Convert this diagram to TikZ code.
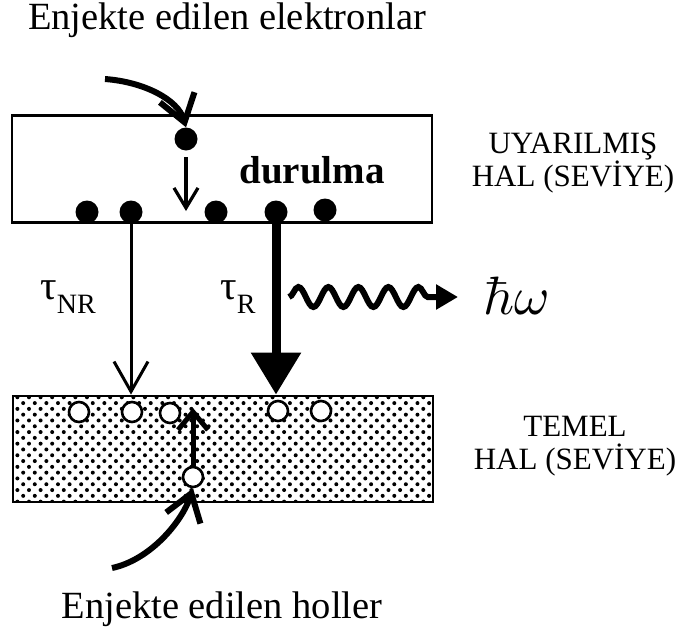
\documentclass[tikz,border=0pt]{standalone}
\usepackage[no-math]{fontspec}
\setmainfont{Liberation Serif}
\usetikzlibrary{arrows.meta,decorations.pathmorphing,patterns.meta}
\newcommand\zaman[1]{{\fontsize{41}{41}\selectfont τ}\raisebox{-14pt}{\fontsize{28}{28}\selectfont #1}}

\begin{document}
\begin{tikzpicture}[x=1pt,y=-1pt,
  yazi/.style={font=\fontsize{38.5}{40}\selectfont},
  etiket/.style={align=center,font=\fontsize{31}{33}\selectfont},
  seviye/.style={draw,line width=2.8pt,minimum width=420pt,inner sep=0pt},
  elektron/.style={circle,fill=black,minimum size=23pt,inner sep=0pt},
  hol/.style={circle,draw,line width=2.6pt,fill=white,minimum size=20pt,inner sep=0pt},
  giris/.style={line width=6pt,-{Straight Barb[length=26pt,width=36pt]}},
  ince/.style={line width=3pt,-{Straight Barb[length=30pt,width=34pt]}},
  kalin/.style={line width=9pt,-{Triangle[length=42pt,width=48pt]}},
  dalga/.style={line width=6pt,-{Triangle[length=22pt,width=24pt]},decorate,
    decoration={snake,amplitude=10pt,segment length=30pt,post length=24pt}}]
  \useasboundingbox (0,0) rectangle (687,635);
  \node[yazi] (elek) at (227,20) {Enjekte edilen elektronlar};
  \node[yazi] (hol) at (222,609) {Enjekte edilen holler};
  \node[seviye,minimum height=107pt] (ust) at (222,169) {};
  \node[seviye,minimum height=106pt,
    pattern={Dots[distance=8.2pt,radius=2pt,angle=45]}] (alt) at (223,449) {};
  \node[etiket] (uyarilmis) at (573,163) {UYARILMIŞ\\HAL (SEVİYE)};
  \node[etiket] (temel) at (575,446) {TEMEL\\HAL (SEVİYE)};
  \node[font=\bfseries\fontsize{39}{39}\selectfont] (durulma) at (312,170) {durulma};
  \node[elektron] (e0) at (186,139) {};
  \node[elektron] (e1) at (87,212) {};
  \node[elektron] (e2) at (131,212) {};
  \node[elektron] (e3) at (216,212) {};
  \node[elektron] (e4) at (276,212) {};
  \node[elektron] (e5) at (325,210) {};
  \node[hol] (h1) at (79,412) {};
  \node[hol] (h2) at (132,412) {};
  \node[hol] (h3) at (170,413) {};
  \node[hol] (h4) at (278,411) {};
  \node[hol] (h5) at (321,411) {};
  \node[hol] (h0) at (193,477) {};
  \node (tnr) at (68,297) {\zaman{NR}};
  \node (tr) at (238,297) {\zaman{R}};
  \node[inner sep=0pt] (hw) at (517,296) {\scalebox{5.4}{$\hbar\omega$}};
  \coordinate (ebas) at (105,79);
  \coordinate (hbas) at (112,568);
  \coordinate (d1) at (186,157);
  \coordinate (d2) at (186,211);
  \coordinate (hust) at (193,408);
  \coordinate (foton) at (289,297);
  \coordinate (fotonuc) at (458,297);
  \draw[giris] (ebas) .. controls (145,82) and (178,100) .. (e0.north);
  \draw[line width=3.2pt,-{Straight Barb[length=20pt,width=24pt]}] (d1) -- (d2);
  \draw[ince] (e2 |- ust.south) -- (e2 |- alt.north);
  \draw[kalin] (e4 |- ust.south) -- (e4 |- alt.north);
  \draw[dalga] (foton) -- (fotonuc);
  \draw[giris] (hbas) .. controls (150,560) and (182,522) .. (h0.south);
  \draw[line width=5pt,-{Straight Barb[length=18pt,width=30pt]}] (h0.north) -- (hust);
\end{tikzpicture}
\end{document}
